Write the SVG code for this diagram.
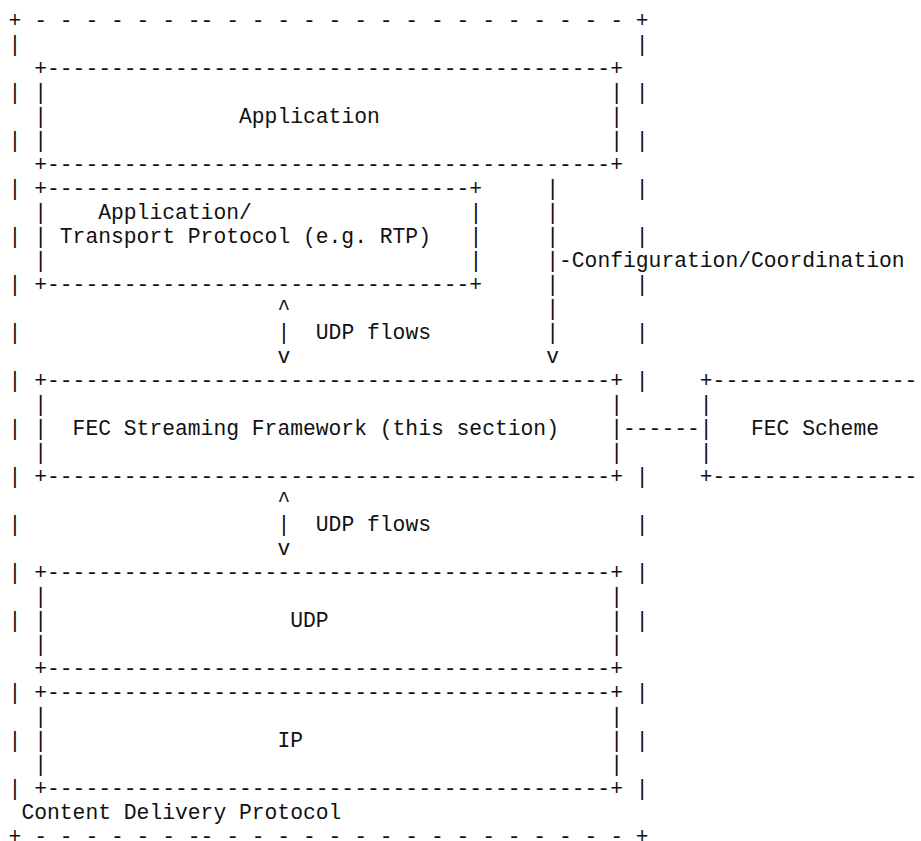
<svg xmlns="http://www.w3.org/2000/svg" width="921" height="841" viewBox="0 0 921 841">
<style>
text{font-family:"Liberation Mono","DejaVu Sans Mono",monospace;font-size:21.333px;fill:#111}
</style>
<rect width="921" height="841" fill="#fff"/>
<g id="content-delivery-protocol">
<text x="8.6" y="26.5">+ - - - - - - -- - - - - - - - - - - - - - - - - +</text>
<text><tspan x="8.6" y="50.5">|</tspan><tspan x="8.6" y="98.5">|</tspan><tspan x="8.6" y="146.5">|</tspan><tspan x="8.6" y="194.5">|</tspan><tspan x="8.6" y="242.5">|</tspan><tspan x="8.6" y="290.5">|</tspan><tspan x="8.6" y="338.5">|</tspan><tspan x="8.6" y="386.5">|</tspan><tspan x="8.6" y="434.5">|</tspan><tspan x="8.6" y="482.5">|</tspan><tspan x="8.6" y="530.5">|</tspan><tspan x="8.6" y="578.5">|</tspan><tspan x="8.6" y="626.5">|</tspan><tspan x="8.6" y="698.5">|</tspan><tspan x="8.6" y="746.5">|</tspan><tspan x="8.6" y="794.5">|</tspan></text>
<text><tspan x="635.8" y="50.5">|</tspan><tspan x="635.8" y="98.5">|</tspan><tspan x="635.8" y="146.5">|</tspan><tspan x="635.8" y="194.5">|</tspan><tspan x="635.8" y="242.5">|</tspan><tspan x="635.8" y="290.5">|</tspan><tspan x="635.8" y="338.5">|</tspan><tspan x="635.8" y="386.5">|</tspan><tspan x="635.8" y="482.5">|</tspan><tspan x="635.8" y="530.5">|</tspan><tspan x="635.8" y="578.5">|</tspan><tspan x="635.8" y="626.5">|</tspan><tspan x="635.8" y="698.5">|</tspan><tspan x="635.8" y="746.5">|</tspan><tspan x="635.8" y="794.5">|</tspan></text>
<text x="21.4" y="818.5">Content Delivery Protocol</text>
<text x="8.6" y="842.5">+ - - - - - - -- - - - - - - - - - - - - - - - - +</text>
</g>
<g id="application">
<text x="34.2" y="74.5">+--------------------------------------------+</text>
<text><tspan x="34.2" y="98.5">|</tspan><tspan x="34.2" y="122.5">|</tspan><tspan x="34.2" y="146.5">|</tspan><tspan x="610.2" y="98.5">|</tspan><tspan x="610.2" y="122.5">|</tspan><tspan x="610.2" y="146.5">|</tspan></text>
<text x="239" y="122.5">Application</text>
<text x="34.2" y="170.5">+--------------------------------------------+</text>
</g>
<g id="transport-protocol">
<text x="34.2" y="194.5">+---------------------------------+</text>
<text><tspan x="34.2" y="218.5">|</tspan><tspan x="34.2" y="242.5">|</tspan><tspan x="34.2" y="266.5">|</tspan><tspan x="469.4" y="218.5">|</tspan><tspan x="469.4" y="242.5">|</tspan><tspan x="469.4" y="266.5">|</tspan></text>
<text x="98.2" y="218.5">Application/</text>
<text x="59.8" y="242.5">Transport Protocol (e.g. RTP)</text>
<text x="34.2" y="290.5">+---------------------------------+</text>
</g>
<g id="fec-streaming-framework">
<text x="34.2" y="386.5">+--------------------------------------------+</text>
<text><tspan x="34.2" y="410.5">|</tspan><tspan x="34.2" y="434.5">|</tspan><tspan x="34.2" y="458.5">|</tspan><tspan x="610.2" y="410.5">|</tspan><tspan x="610.2" y="434.5">|</tspan><tspan x="610.2" y="458.5">|</tspan></text>
<text x="72.6" y="434.5">FEC Streaming Framework (this section)</text>
<text x="34.2" y="482.5">+--------------------------------------------+</text>
</g>
<g id="fec-scheme">
<text x="699.8" y="386.5">+----------------</text>
<text><tspan x="699.8" y="410.5">|</tspan><tspan x="699.8" y="434.5">|</tspan><tspan x="699.8" y="458.5">|</tspan></text>
<text x="751" y="434.5">FEC Scheme</text>
<text x="699.8" y="482.5">+----------------</text>
</g>
<g id="udp">
<text x="34.2" y="578.5">+--------------------------------------------+</text>
<text><tspan x="34.2" y="602.5">|</tspan><tspan x="34.2" y="626.5">|</tspan><tspan x="34.2" y="650.5">|</tspan><tspan x="610.2" y="602.5">|</tspan><tspan x="610.2" y="626.5">|</tspan><tspan x="610.2" y="650.5">|</tspan></text>
<text x="290.2" y="626.5">UDP</text>
<text x="34.2" y="674.5">+--------------------------------------------+</text>
</g>
<g id="ip">
<text x="34.2" y="698.5">+--------------------------------------------+</text>
<text><tspan x="34.2" y="722.5">|</tspan><tspan x="34.2" y="746.5">|</tspan><tspan x="34.2" y="770.5">|</tspan><tspan x="610.2" y="722.5">|</tspan><tspan x="610.2" y="746.5">|</tspan><tspan x="610.2" y="770.5">|</tspan></text>
<text x="277.4" y="746.5">IP</text>
<text x="34.2" y="794.5">+--------------------------------------------+</text>
</g>
<g id="connectors">
<g id="udp-flows-upper">
<text><tspan x="277.4" y="314.5">^</tspan><tspan x="277.4" y="338.5">|</tspan><tspan x="277.4" y="362.5">v</tspan></text>
<text x="315.8" y="338.5">UDP flows</text>
</g>
<g id="udp-flows-lower">
<text><tspan x="277.4" y="506.5">^</tspan><tspan x="277.4" y="530.5">|</tspan><tspan x="277.4" y="554.5">v</tspan></text>
<text x="315.8" y="530.5">UDP flows</text>
</g>
<g id="configuration">
<text><tspan x="546.2" y="194.5">|</tspan><tspan x="546.2" y="218.5">|</tspan><tspan x="546.2" y="242.5">|</tspan><tspan x="546.2" y="266.5">|</tspan><tspan x="546.2" y="290.5">|</tspan><tspan x="546.2" y="314.5">|</tspan><tspan x="546.2" y="338.5">|</tspan><tspan x="546.2" y="362.5">v</tspan></text>
<text x="559" y="266.5">-Configuration/Coordination</text>
</g>
<g id="framework-scheme-link">
<text x="623" y="434.5">------</text>
</g>
</g>
</svg>
